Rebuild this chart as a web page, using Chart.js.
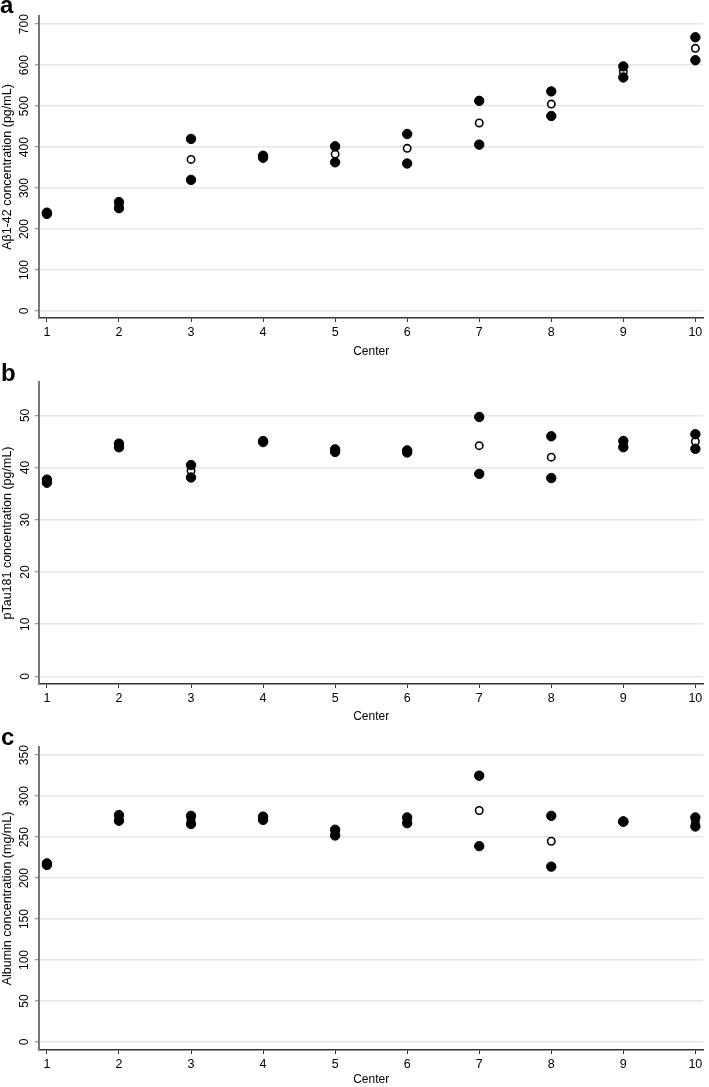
<!DOCTYPE html>
<html>
<head>
<meta charset="utf-8">
<script src="https://cdn.jsdelivr.net/npm/chart.js@4.4.1/dist/chart.umd.min.js"></script>
<style>
body { margin:0; background:#fff; width:709px; height:1087px; position:relative; overflow:hidden; font-family:'Liberation Sans', Arial, sans-serif; }
.panel { position:absolute; left:0; width:709px; }
.letter { position:absolute; left:1px; font-weight:bold; font-size:24px; line-height:24px; color:#000; }
</style>
</head>
<body>
<div class="panel" style="top:0;height:360px"><canvas id="chartA" width="709" height="360"></canvas></div>
<div class="panel" style="top:360px;height:365px"><canvas id="chartB" width="709" height="365"></canvas></div>
<div class="panel" style="top:725px;height:362px"><canvas id="chartC" width="709" height="362"></canvas></div>
<div class="letter" style="top:-7px;left:0">a</div>
<div class="letter" style="top:361px">b</div>
<div class="letter" style="top:725px">c</div>
<script>
var centers = [1, 2, 3, 4, 5, 6, 7, 8, 9, 10];
var xTicks = [1, 2, 3, 4, 5, 6, 7, 8, 9, 10];

// panel a - Abeta1-42 (pg/mL)
var abHigh = [240, 266, 420, 379, 402, 432, 513, 536, 597, 668];
var abLow  = [237, 251, 320, 374, 363, 360, 406, 476, 570, 612];
var abMean = [238.5, 258.5, 370, 376.5, 383, 397, 459, 505, 584, 641];
var abTicks = [0, 100, 200, 300, 400, 500, 600, 700];

// panel b - pTau181 (pg/mL)
var ptHigh = [37.7, 44.6, 40.5, 45.1, 43.5, 43.3, 49.7, 46.0, 45.1, 46.4];
var ptLow  = [37.1, 43.9, 38.1, 44.9, 43.0, 42.9, 38.8, 38.0, 43.9, 43.6];
var ptMean = [37.4, 44.2, 39.4, 45.0, 43.2, 43.1, 44.2, 42.0, 44.5, 45.0];
var ptTicks = [0, 10, 20, 30, 40, 50];

// panel c - albumin (mg/mL)
var albHigh = [218, 277, 276, 275, 259, 274, 325, 276, 269, 274];
var albLow  = [216, 270, 266, 271, 252, 267, 239, 214, 269, 263];
var albMean = [217, 273.5, 271, 273, 255.5, 270.5, 282.5, 245, 269, 268.5];
var albTicks = [0, 50, 100, 150, 200, 250, 300, 350];

var fam = "'Liberation Sans', Arial, sans-serif";

function pts(vals) {
    return centers.map(function(c, i) { return {x: c, y: vals[i]}; });
}

function makeChart(id, p) {
    var ctx = document.getElementById(id);
    var filled = {pointRadius: 4.7, pointBorderWidth: 1, pointBackgroundColor: '#000', pointBorderColor: '#000', clip: false, showLine: false};
    // filled measurements sit on top of the open mean markers
    return new Chart(ctx, {
        type: 'scatter',
        data: {
            datasets: [
                Object.assign({data: pts(p.high), order: 0}, filled),
                Object.assign({data: pts(p.low), order: 1}, filled),
                {data: pts(p.mean), order: 2, pointRadius: 3.7, pointBorderWidth: 1.6, pointBackgroundColor: '#fff', pointBorderColor: '#000', clip: false}
            ]
        },
        options: {
            responsive: false,
            animation: false,
            events: [],
            layout: {padding: {top: p.padTop, left: 0, right: 0, bottom: 0}},
            plugins: {legend: {display: false}, tooltip: {enabled: false}},
            scales: {
                x: {
                    type: 'linear', min: 0.89, max: 10.11,
                    afterBuildTicks: function(s) { s.ticks = xTicks.map(function(v) { return {value: v}; }); },
                    afterFit: function(s) { s.height = p.xAxisH; },
                    grid: {drawOnChartArea: false, drawTicks: true, tickLength: 4, tickColor: '#333', tickWidth: 1},
                    border: {color: '#333', width: 1.5},
                    ticks: {font: {family: fam, size: 12.5}, color: '#000', padding: 3, maxRotation: 0, autoSkip: false},
                    title: {display: true, text: 'Center', font: {family: fam, size: 12}, color: '#000', padding: {top: 0, bottom: p.titlePad}}
                },
                y: {
                    type: 'linear', min: p.yMin, max: p.yMax,
                    afterBuildTicks: function(s) { s.ticks = p.ticks.map(function(v) { return {value: v}; }); },
                    afterFit: function(s) { s.width = 39; },
                    grid: {color: '#e6e6e6', lineWidth: 1.5, tickLength: 4, tickColor: '#777', tickWidth: 1},
                    border: {color: '#777', width: 2},
                    ticks: {font: {family: fam, size: 12}, color: '#000', padding: p.tickPad, minRotation: 90, maxRotation: 90, crossAlign: 'center'},
                    title: {display: true, text: p.title, font: {family: fam, size: 12.5}, color: '#000', padding: 0}
                }
            }
        }
    });
}

makeChart('chartA', {high: abHigh, low: abLow, mean: abMean, ticks: abTicks, yMin: -17, yMax: 720,
    padTop: 16, xAxisH: 42, titlePad: 1.5, tickPad: 0, title: 'A\u03b21-42 concentration (pg/mL)'});
makeChart('chartB', {high: ptHigh, low: ptLow, mean: ptMean, ticks: ptTicks, yMin: -1.45, yMax: 56.4,
    padTop: 22, xAxisH: 41, titlePad: 1.5, tickPad: 3, title: 'pTau181 concentration (pg/mL)'});
makeChart('chartC', {high: albHigh, low: albLow, mean: albMean, ticks: albTicks, yMin: -9.8, yMax: 360,
    padTop: 22, xAxisH: 37, titlePad: 0, tickPad: 0, title: 'Albumin concentration (mg/mL)'});
</script>
</body>
</html>
